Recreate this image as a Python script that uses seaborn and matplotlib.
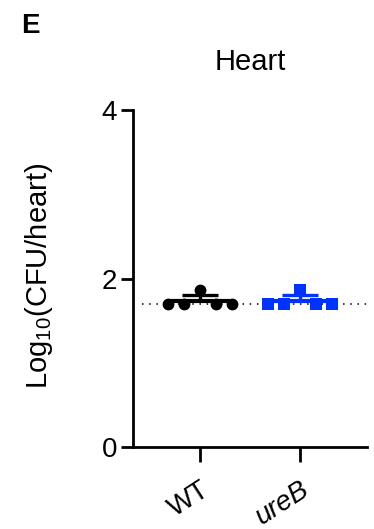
import pandas as pd
import matplotlib.pyplot as plt
import seaborn as sns

# values (log10 CFU/heart), one per mouse
groups = ['WT', 'ureB']
mice = ['m1', 'm2', 'm3', 'm4', 'm5']
wt_values = [1.70, 1.70, 1.86, 1.70, 1.70]
ureb_values = [1.70, 1.70, 1.86, 1.70, 1.70]
detection_limit = 1.70
colors = ['black', '#0033ff']
markers = ['o', 's']

df = pd.DataFrame({
    'group': ['WT'] * len(wt_values) + ['ureB'] * len(ureb_values),
    'mouse': mice + mice,
    'value': wt_values + ureb_values,
})

sns.set_style('ticks', {'axes.edgecolor': 'black', 'xtick.color': 'black',
                        'ytick.color': 'black', 'text.color': 'black',
                        'axes.labelcolor': 'black'})
plt.rcParams['font.family'] = ['Liberation Sans', 'DejaVu Sans']
plt.rcParams['mathtext.fontset'] = 'custom'
plt.rcParams['mathtext.rm'] = 'Liberation Sans'

fig = plt.figure(figsize=(3.74, 5.29), dpi=100)
ax = fig.add_axes([0.356, 0.155, 0.625, 0.637])

# detection limit
ax.axhline(detection_limit, xmin=0.04, xmax=1, color='black',
           ls=(0, (1, 3.7)), lw=1.1, zorder=1)

# mean and SD bars
stats = df.groupby('group', sort=False)['value'].agg(['mean', 'std'])
for i, g in enumerate(groups):
    m, s = stats.loc[g, 'mean'], stats.loc[g, 'std']
    ax.hlines(m, i - 0.3, i + 0.3, color=colors[i], lw=3, zorder=3)
    ax.vlines(i, m, m + s, color=colors[i], lw=2.4, zorder=3)
    ax.hlines(m + s, i - 0.18, i + 0.18, color=colors[i], lw=2.4, zorder=3)

# individual mice, spread side by side like a scatter dot plot
for i, g in enumerate(groups):
    sns.stripplot(data=df[df.group == g], x='group', y='value', order=groups,
                  hue='mouse', hue_order=mice, palette=[colors[i]] * len(mice),
                  dodge=True, jitter=False, marker=markers[i], size=8.5,
                  linewidth=0, legend=False, ax=ax, zorder=4)

ax.set_xlim(-0.67, 1.67)
ax.set_ylim(0, 4)
ax.set_yticks([0, 2, 4])
ax.set_yticklabels(['0', '2', '4'], fontsize=20)
ax.set_xticks([0, 1])
ax.set_xticklabels(groups, fontsize=20, rotation=33, ha='right', rotation_mode='anchor')
ax.get_xticklabels()[1].set_style('italic')
ax.set_xlabel('')
ax.set_ylabel('Log$_{10}$(CFU/heart)', fontsize=21)
ax.yaxis.set_label_coords(-0.333, 0.507)
ax.set_title('Heart', fontsize=21, pad=29)

for side in ['top', 'right']:
    ax.spines[side].set_visible(False)
for side in ['left', 'bottom']:
    ax.spines[side].set_linewidth(2.0)
ax.tick_params(axis='y', length=8.5, width=2.0, pad=3)
ax.tick_params(axis='x', length=11, width=2.0, pad=10)

fig.text(0.056, 0.9376, 'E', fontsize=20, fontweight='bold')

fig.savefig('out.png', dpi=100)
